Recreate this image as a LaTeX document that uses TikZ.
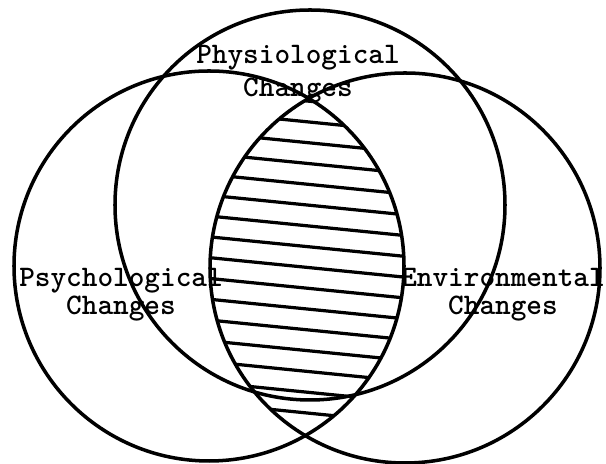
\documentclass[tikz,border=0pt]{standalone}
\usetikzlibrary{calc}

\tikzset{
  ring/.style={line width=2.5pt},
  hatchline/.style={line width=2.3pt},
  changelabel/.style={font=\ttfamily\bfseries\fontsize{21.2}{20.6}\selectfont, align=center, inner sep=0pt, anchor=base},
}

\begin{document}
\begin{tikzpicture}[x=0.025cm, y=0.025cm]
  \useasboundingbox (0,0) rectangle (606,464);
  % centres of the three circles
  \coordinate (psy) at (209,198);
  \coordinate (env) at (405,196);
  \coordinate (phy) at (310,259);
  % hatching where the two lower circles overlap
  \begin{scope}
    \clip (psy) circle (195);
    \clip (env) circle (195);
    \foreach \k in {0,...,15}
      \draw[hatchline] (180,{375.7-20.8*\k}) -- (440,{349.7-20.8*\k});
  \end{scope}
  \draw[ring] (psy) circle (195);
  \draw[ring] (env) circle (195);
  \draw[ring] (phy) circle (195);
  % labels (anchored on the baseline of the second line)
  \node[changelabel] (phylabel) at (298,367) {Physiological\\[3pt]Changes};
  \node[changelabel] (psylabel) at (121,149) {Psychological\\Changes};
  \node[changelabel] (envlabel) at (503,149) {Environmental\\Changes};
\end{tikzpicture}
\end{document}
